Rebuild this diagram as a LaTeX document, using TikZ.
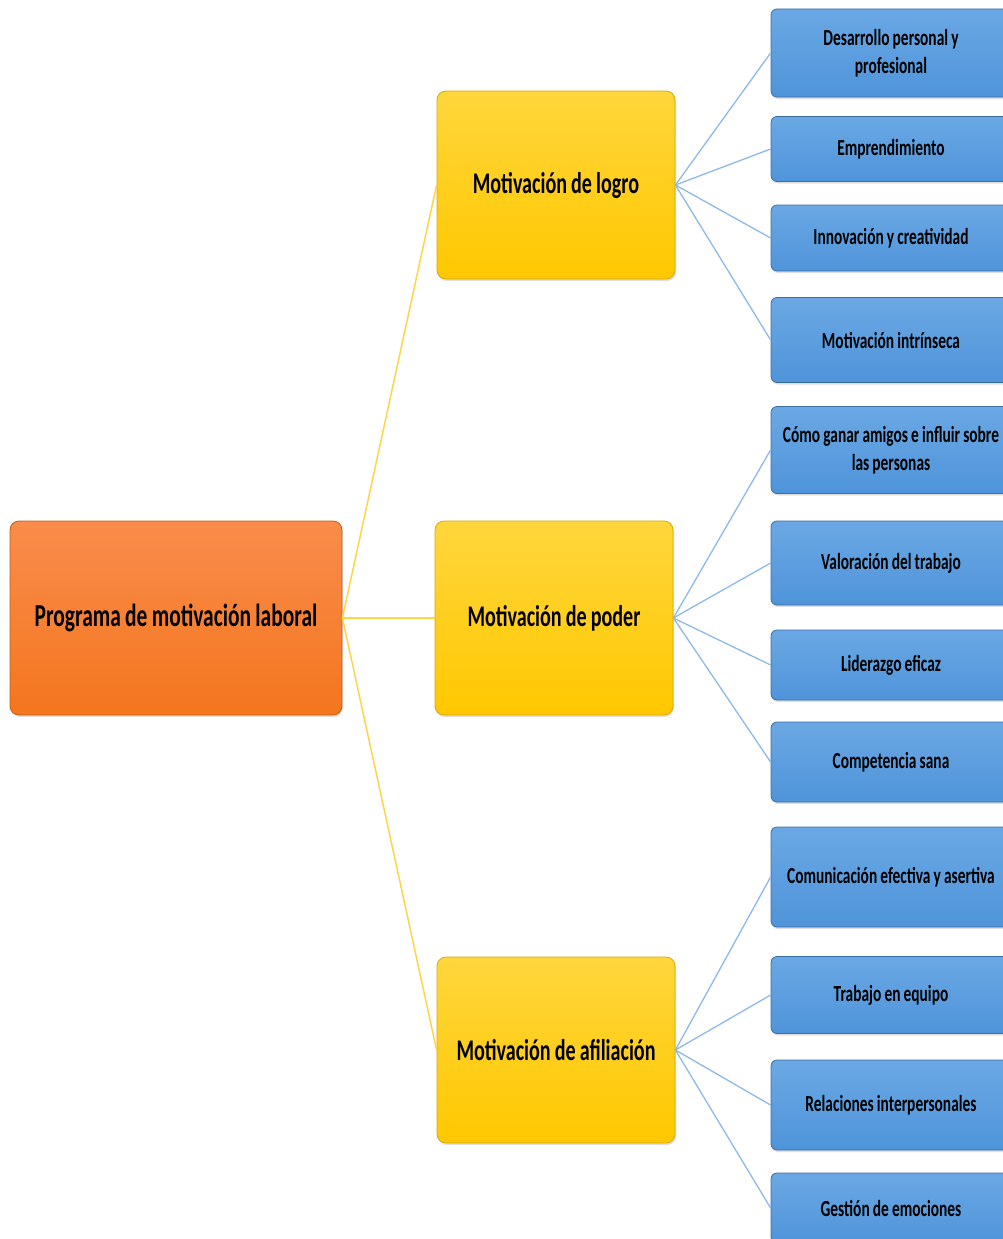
\documentclass[tikz,border=0pt]{standalone}
\usepackage{fontspec}
\newfontfamily\boxfont[FakeStretch=0.67,WordSpace=0.9]{Carlito}
\usetikzlibrary{shadows}
\definecolor{orangetop}{HTML}{F98C4C}
\definecolor{orangebot}{HTML}{F4761E}
\definecolor{yellowtop}{HTML}{FFD63C}
\definecolor{yellowbot}{HTML}{FFC800}
\definecolor{bluetop}{HTML}{6AA8E4}
\definecolor{bluebot}{HTML}{4F94DA}
\definecolor{yline}{HTML}{FFD44A}
\definecolor{bline}{HTML}{8DB9E8}
\tikzset{
  rootbox/.style={draw=orangebot!80!black,line width=0.8pt,rounded corners=9pt,top color=orangetop,bottom color=orangebot,
    minimum width=332pt,minimum height=194pt,font=\boxfont\bfseries\fontsize{32}{35}\selectfont,
    drop shadow={opacity=0.25,shadow xshift=1pt,shadow yshift=-2pt}},
  midbox/.style={draw=yellowbot!85!black,line width=0.8pt,rounded corners=9pt,top color=yellowtop,bottom color=yellowbot,
    minimum width=238pt,minimum height=188pt,font=\boxfont\bfseries\fontsize{30}{33}\selectfont,
    drop shadow={opacity=0.25,shadow xshift=1pt,shadow yshift=-2pt}},
  leafbox/.style={draw=bluebot!75!black,line width=0.8pt,rounded corners=6pt,top color=bluetop,bottom color=bluebot,
    minimum width=240pt,align=center,font=\boxfont\bfseries\fontsize{23}{28}\selectfont,
    drop shadow={opacity=0.25,shadow xshift=1pt,shadow yshift=-2pt}},
  yconn/.style={yline,line width=1.5pt},
  bconn/.style={bline,line width=1.3pt}
}
\begin{document}
\begin{tikzpicture}[x=1pt,y=-1pt]
\useasboundingbox (0,0) rectangle (1002,1239);
% central box
\node[rootbox] (prog) at (176,618) {Programa de motivación laboral};
% the three motivations
\node[midbox] (logro) at (556,185) {Motivación de logro};
\node[midbox,minimum height=194pt] (poder) at (554,618) {Motivación de poder};
\node[midbox,minimum height=186pt] (afil) at (556,1050) {Motivación de afiliación};
% logro
\node[leafbox,minimum height=88pt] (l1) at (891,53) {Desarrollo personal y\\profesional};
\node[leafbox,minimum height=65pt] (l2) at (891,149) {Emprendimiento};
\node[leafbox,minimum height=66pt] (l3) at (891,238) {Innovación y creatividad};
\node[leafbox,minimum height=85pt] (l4) at (891,340) {Motivación intrínseca};
% poder
\node[leafbox,minimum height=87pt] (p1) at (891,450) {Cómo ganar amigos e influir sobre\\las personas};
\node[leafbox,minimum height=84pt] (p2) at (891,563) {Valoración del trabajo};
\node[leafbox,minimum height=70pt] (p3) at (891,665) {Liderazgo eficaz};
\node[leafbox,minimum height=80pt] (p4) at (891,762) {Competencia sana};
% afiliacion
\node[leafbox,minimum height=100pt] (a1) at (891,877) {Comunicación efectiva y asertiva};
\node[leafbox,minimum height=77pt] (a2) at (891,995) {Trabajo en equipo};
\node[leafbox,minimum height=90pt] (a3) at (891,1105) {Relaciones interpersonales};
\node[leafbox,minimum height=70pt] (a4) at (891,1208) {Gestión de emociones};
% connectors
\foreach \m in {logro,poder,afil}
  \draw[yconn] (prog.east) -- (\m.west);
\foreach \b in {l1,l2,l3,l4}
  \draw[bconn] (logro.east) -- (\b.west);
\foreach \b in {p1,p2,p3,p4}
  \draw[bconn] (poder.east) -- (\b.west);
\foreach \b in {a1,a2,a3,a4}
  \draw[bconn] (afil.east) -- (\b.west);
\end{tikzpicture}
\end{document}
